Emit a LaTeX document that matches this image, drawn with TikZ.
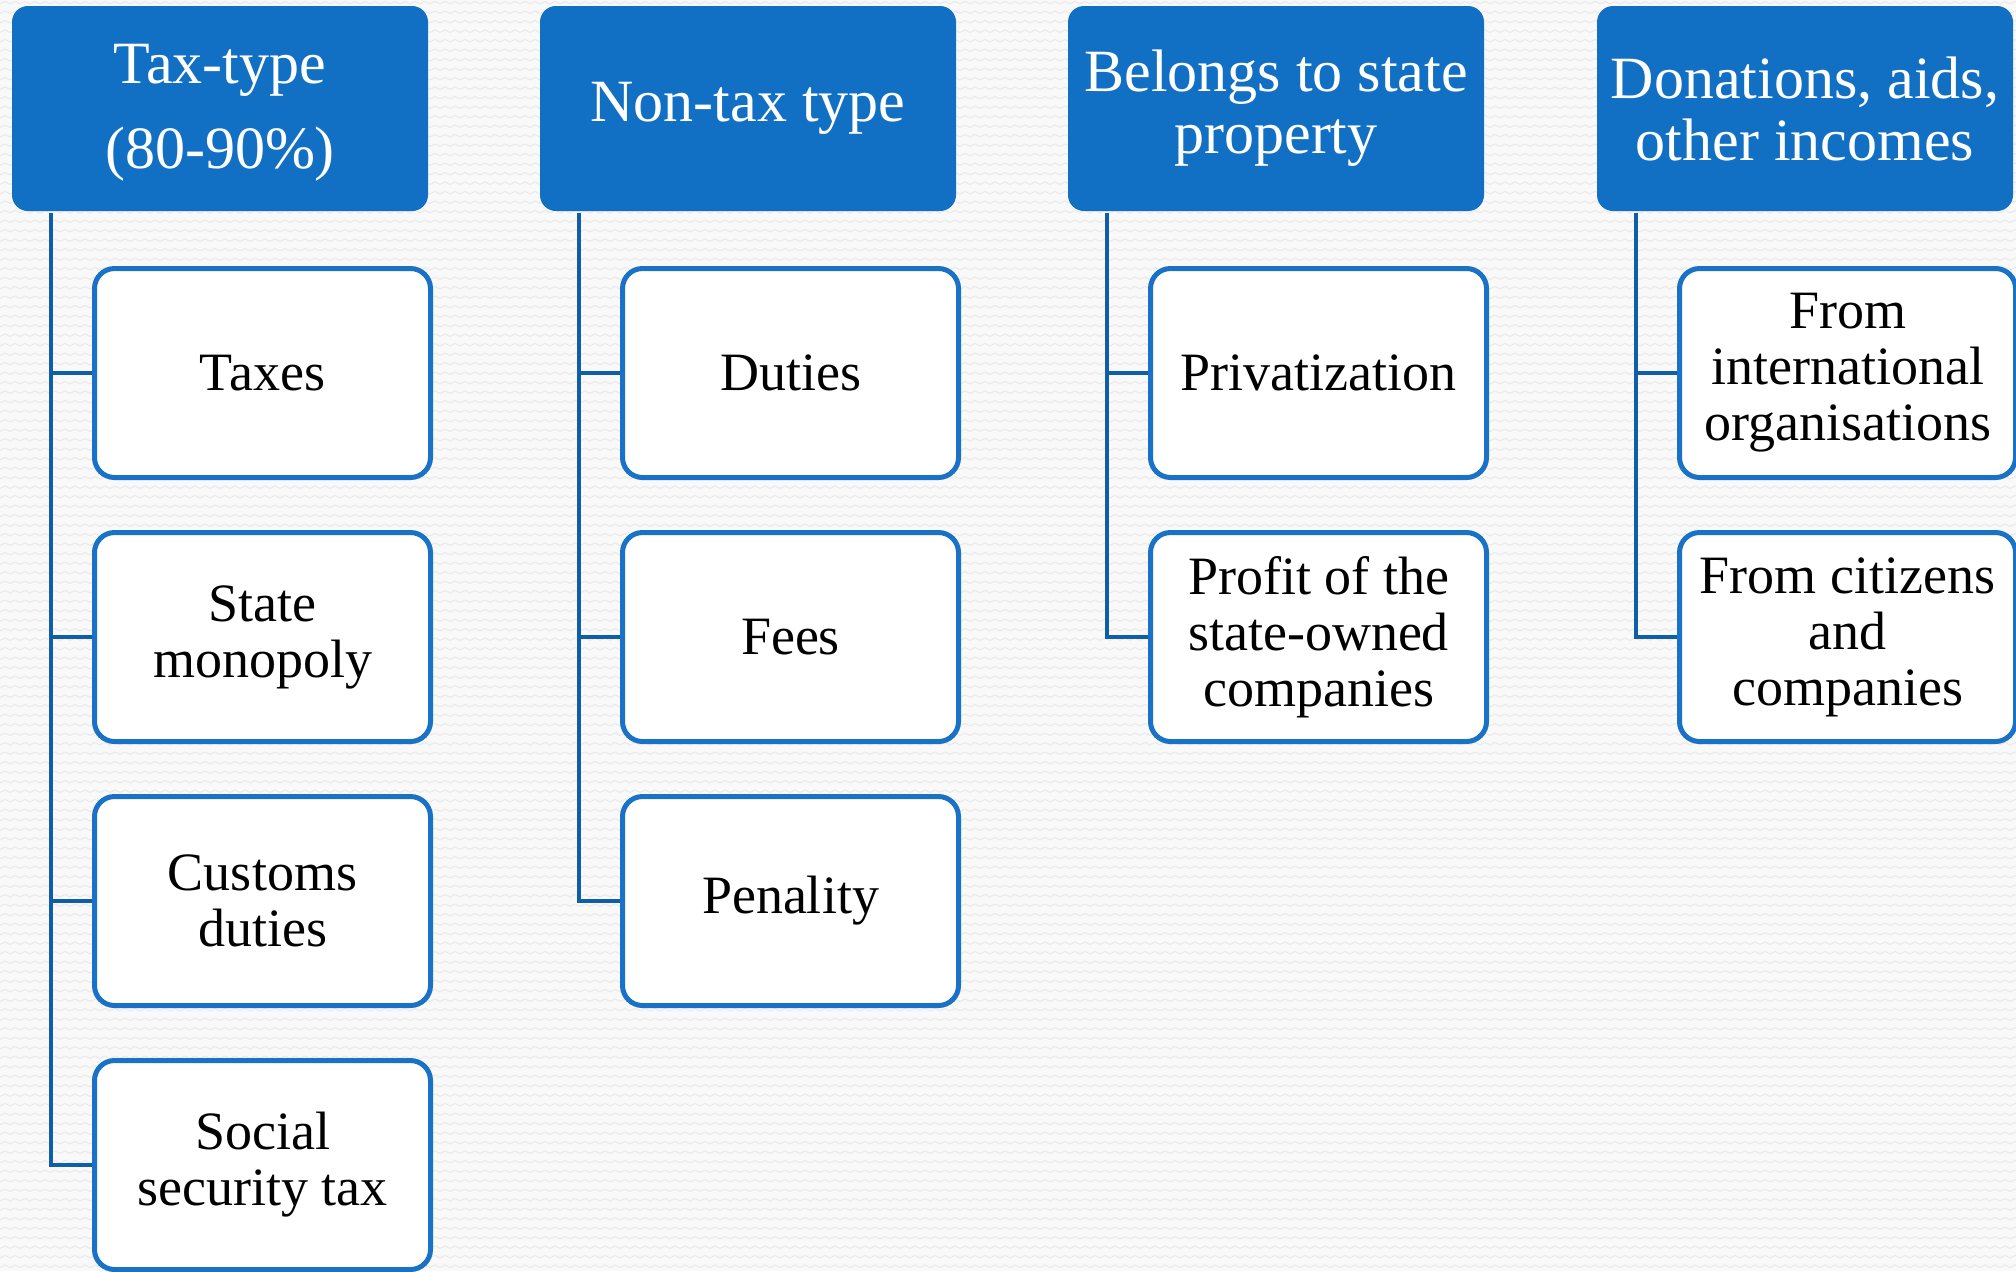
\documentclass[tikz,border=0pt]{standalone}
\usepackage{fontspec}
\setmainfont{Liberation Serif}
\usetikzlibrary{patterns}

\definecolor{hdrblue}{HTML}{1270C4}
\definecolor{boxblue}{HTML}{1A72C6}
\definecolor{linkblue}{HTML}{105EA8}
\definecolor{paper}{HTML}{F9F9F9}
\definecolor{weave}{HTML}{EAEAEA}

% faint wavy texture of the slide background
\pgfdeclarepatternformonly{wavetile}{\pgfqpoint{-0.5pt}{-0.5pt}}{\pgfqpoint{5.5pt}{5.25pt}}{\pgfqpoint{5pt}{4.75pt}}{
  \pgfsetlinewidth{0.55pt}
  \pgfsetroundjoin
  \pgfpathmoveto{\pgfqpoint{0pt}{1.8pt}}
  \pgfpathlineto{\pgfqpoint{2.5pt}{3.0pt}}
  \pgfpathlineto{\pgfqpoint{5pt}{1.8pt}}
  \pgfusepath{stroke}
}

\tikzset{
  hdr/.style={fill=hdrblue, rounded corners=8pt, minimum width=208pt,
    minimum height=102.5pt, inner sep=0pt, text=white, align=center,
    font=\fontsize{30}{31}\selectfont},
  hdrtext/.style={inner sep=0pt, text=white, align=center,
    font=\fontsize{30}{42.5}\selectfont},
  item/.style={draw=boxblue, line width=2.5pt, fill=white, rounded corners=10pt,
    minimum width=168pt, minimum height=104.5pt, inner sep=0pt, align=center,
    font=\fontsize{27}{28}\selectfont},
  link/.style={draw=linkblue, line width=2.3pt}
}

\begin{document}
\begin{tikzpicture}[x=0.5pt,y=-0.5pt]
\useasboundingbox (0,0) rectangle (2016,1271);
\fill[paper] (0,0) rectangle (2016,1271);
\fill[pattern=wavetile, pattern color=weave] (0,0) rectangle (2016,1271);

% headers
\node[hdr] (h1) at (220,108.5) {};
\node[hdrtext] (h1t) at ([yshift=-2pt]h1.center) {Tax-type\\(80-90\%)};
\node[hdr] (h2) at (748,108.5) {Non-tax type};
\node[hdr] (h3) at (1276,108.5) {Belongs to state\\property};
\node[hdr] (h4) at (1805,108.5) {Donations, aids,\\other incomes};

% column 1
\node[item] (a1) at (262.5,373) {Taxes};
\node[item] (a2) at (262.5,637) {State\\monopoly};
\node[item] (a3) at (262.5,901) {Customs\\duties};
\node[item] (a4) at (262.5,1165) {Social\\security tax};

% column 2
\node[item] (b1) at (790.5,373) {Duties};
\node[item] (b2) at (790.5,637) {Fees};
\node[item] (b3) at (790.5,901) {Penality};

% column 3
\node[item] (c1) at (1318.5,373) {Privatization};
\node[item] (c2) at (1318.5,637) {Profit of the\\state-owned\\companies};

% column 4
\node[item] (d1) at (1847.5,373) {From\\international\\organisations};
\node[item] (d2) at (1847.5,637) {From citizens\\and\\companies};

% trunk roots under each header
\coordinate (ra) at (51,213);
\coordinate (rb) at (579,213);
\coordinate (rc) at (1107,213);
\coordinate (rd) at (1636,213);

% connectors
\draw[link] (ra) |- (a4.west);
\draw[link] (ra) |- (a1.west);
\draw[link] (ra) |- (a2.west);
\draw[link] (ra) |- (a3.west);

\draw[link] (rb) |- (b3.west);
\draw[link] (rb) |- (b1.west);
\draw[link] (rb) |- (b2.west);

\draw[link] (rc) |- (c2.west);
\draw[link] (rc) |- (c1.west);

\draw[link] (rd) |- (d2.west);
\draw[link] (rd) |- (d1.west);
\end{tikzpicture}
\end{document}
